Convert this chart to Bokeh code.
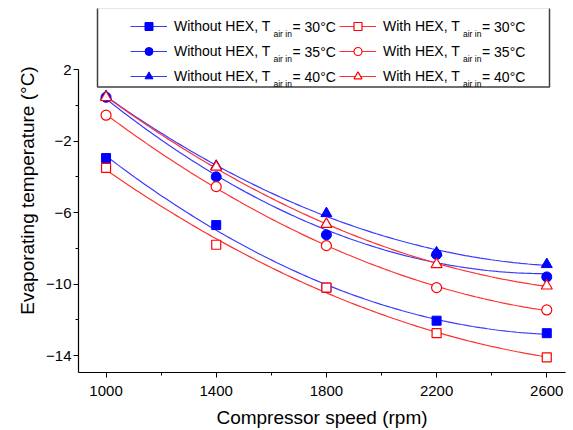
import numpy as np
from bokeh.plotting import figure
from bokeh.models import (FixedTicker, Legend, LegendItem, Label, BoxAnnotation, Range1d)
from bokeh.embed import file_html
from bokeh.resources import INLINE

# ---- data ----
speed = [1000, 1400, 1800, 2200, 2600]
without_30 = [-2.95, -6.7, -10.2, -12.05, -12.75]
without_35 = [0.45, -4.0, -7.25, -8.35, -9.6]
without_40 = [0.5, -3.4, -6.05, -8.25, -8.9]
with_30 = [-3.5, -7.8, -10.2, -12.75, -14.1]
with_35 = [-0.55, -4.55, -7.85, -10.2, -11.45]
with_40 = [0.45, -3.45, -6.65, -8.9, -10.1]

temps = ["30", "35", "40"]
x_ticks = [1000, 1400, 1800, 2200, 2600]
x_minor = [1200, 1600, 2000, 2400]
y_ticks = [2, -2, -6, -10, -14]
y_minor = [0, -4, -8, -12]

FONT = "Liberation Sans"
BLUE = "#0000FF"
BLUE_LINE = "#3a3aff"
RED = "#FF0000"
RED_LINE = "#ff3030"

p = figure(width=573, height=430, output_backend="svg", toolbar_location=None,
           x_range=Range1d(900, 2668), y_range=Range1d(-14.95, 5.42),
           min_border_left=78, min_border_right=8, min_border_top=8,
           min_border_bottom=57)
p.grid.visible = False
p.outline_line_color = None
p.background_fill_color = "white"
p.border_fill_color = "white"

for ax in (p.xaxis[0], p.yaxis[0]):
    ax.axis_line_color = "black"
    ax.axis_line_width = 1.2
    ax.major_tick_line_color = "black"
    ax.minor_tick_line_color = "black"
    ax.major_tick_in = 0
    ax.major_tick_out = 5
    ax.minor_tick_in = 0
    ax.minor_tick_out = 3
    ax.major_label_text_font = FONT
    ax.major_label_text_font_size = "15px"
    ax.major_label_text_color = "black"
    ax.axis_label_text_font = FONT
    ax.axis_label_text_font_size = "19px"
    ax.axis_label_text_font_style = "normal"
    ax.axis_label_text_color = "black"

p.xaxis[0].ticker = FixedTicker(ticks=x_ticks, minor_ticks=x_minor)
p.yaxis[0].ticker = FixedTicker(ticks=y_ticks, minor_ticks=y_minor)
p.yaxis[0].bounds = (-14.95, 2)
p.xaxis[0].axis_label = "Compressor speed (rpm)"
p.yaxis[0].axis_label = "Evaporating temperature (°C)"
p.xaxis[0].major_label_standoff = 8
p.xaxis[0].axis_label_standoff = 8
p.yaxis[0].major_label_standoff = 2
p.yaxis[0].axis_label_standoff = 5

xx = np.linspace(speed[0], speed[-1], 120)

def fit(ys):
    c = np.polyfit(speed, ys, 2)
    return np.polyval(c, xx)

series = [
    (without_30, "square", True, 9),
    (without_35, "circle", True, 10),
    (without_40, "triangle", True, 11),
    (with_30, "square", False, 9),
    (with_35, "circle", False, 10),
    (with_40, "triangle", False, 11),
]

line_rs, mark_rs = [], []
for ys, mk, filled, sz in series:
    col = BLUE_LINE if filled else RED_LINE
    line_rs.append(p.line(xx, fit(ys), line_color=col, line_width=1.2))
for ys, mk, filled, sz in series:
    if filled:
        r = p.scatter(speed, ys, marker=mk, size=sz, fill_color=BLUE, line_color=BLUE)
    else:
        r = p.scatter(speed, ys, marker=mk, size=sz, fill_color="white",
                      line_color=RED, line_width=1.2)
    mark_rs.append(r)

# legend frame
box = BoxAnnotation(left=19, right=471, bottom=285.5, top=365,
                    left_units="screen", right_units="screen",
                    top_units="screen", bottom_units="screen",
                    fill_color="white", fill_alpha=1.0,
                    line_color="#404040", line_width=1.5, line_alpha=1.0)
p.add_layout(box)

items = []
for i in range(6):
    lab = "Without HEX, T" if i < 3 else "With HEX, T"
    items.append(LegendItem(label=lab, renderers=[line_rs[i], mark_rs[i]]))

legend = Legend(items=items, location=(52, 286), ncols=2,
                glyph_width=37, glyph_height=20, label_height=20,
                label_width=160, label_standoff=7, spacing=5,
                padding=0, margin=0, border_line_alpha=0,
                background_fill_alpha=0,
                label_text_font=FONT, label_text_font_size="14px",
                label_text_color="black")
p.add_layout(legend, "center")

row_y = [346, 321, 296]
col_sub_x = [195, 384.5]
col_eq_x = [214, 403.5]
for c in range(2):
    for r in range(3):
        p.add_layout(Label(x=col_sub_x[c], y=row_y[r] - 7, x_units="screen",
                           y_units="screen", text="air in", text_font=FONT,
                           text_font_size="8.5px", text_baseline="middle",
                           text_align="left", text_color="black"))
        p.add_layout(Label(x=col_eq_x[c], y=row_y[r], x_units="screen",
                           y_units="screen", text="= " + temps[r] + "°C",
                           text_font=FONT, text_font_size="14px",
                           text_baseline="middle", text_align="left",
                           text_color="black"))

open("out.html", "w").write(file_html(p, INLINE))
